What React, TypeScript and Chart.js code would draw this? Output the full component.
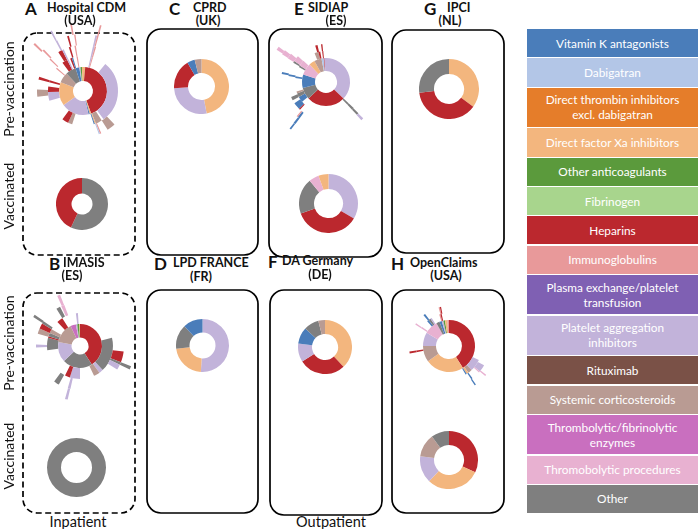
import React, { useEffect, useRef } from "react";
import { Chart, registerables } from "chart.js";
Chart.register(...registerables);

// ---------------- categories & colours ----------------
const CATEGORIES: string[][] = [
  ["Vitamin K antagonists"],
  ["Dabigatran"],
  ["Direct thrombin inhibitors", "excl. dabigatran"],
  ["Direct factor Xa inhibitors"],
  ["Other anticoagulants"],
  ["Fibrinogen"],
  ["Heparins"],
  ["Immunoglobulins"],
  ["Plasma exchange/platelet", "transfusion"],
  ["Platelet aggregation", "inhibitors"],
  ["Rituximab"],
  ["Systemic corticosteroids"],
  ["Thrombolytic/fibrinolytic", "enzymes"],
  ["Thromobolytic procedures"],
  ["Other"],
];
const COLORS = [
  "#4a7dba", "#b3c6e7", "#e57d2a", "#f3b67e", "#5b9a3c", "#a8d58d", "#bb282e", "#e8999a",
  "#7f60b3", "#c2b3da", "#7a5147", "#b99b93", "#c96fbf", "#e8b1d1", "#7f7f7f",
];
const VKA = 0, DAB = 1, DTI = 2, DXA = 3, OAC = 4, FIB = 5, HEP = 6, IMM = 7, PLX = 8, PAI = 9,
  RIT = 10, SYS = 11, THR = 12, TPR = 13, OTH = 14, G = -1;

type Seg = [number, number]; // [category, share %] ; G = no further treatment

// ---------------- A: Hospital CDM (USA) ----------------
const A_pre_L1: Seg[] = [[DXA,1.5],[HEP,43],[DXA,1],[VKA,0.8],[PAI,18.7],[DXA,16],[SYS,7],[OTH,7],[VKA,2.5],[PAI,0.8],[OAC,1],[DXA,0.7]];
const A_pre_L2: Seg[] = [[G,3.5],[PAI,0.6],[IMM,0.5],[G,6.4],[PAI,29],[G,1],[SYS,3],[DXA,0.5],[VKA,0.5],[G,10],[SYS,2],[HEP,3],[G,10.5],[PAI,4],[HEP,2.5],[G,2],[HEP,1],[G,6],[IMM,0.6],[G,3.4],[HEP,2.5],[PAI,0.7],[G,0.8],[HEP,0.8],[VKA,0.6],[G,1.6],[IMM,0.6]];
const A_pre_L3: Seg[] = [[G,3.5],[PAI,0.6],[IMM,0.5],[G,33.4],[SYS,3],[G,2.5],[IMM,0.5],[DAB,0.4],[G,28.6],[SYS,2.5],[G,3.5],[HEP,1],[G,7],[IMM,0.5],[G,3.5],[HEP,1.5],[PAI,0.6],[G,1.9],[HEP,0.6],[G,1.4],[IMM,0.5]];
const A_pre_L4: Seg[] = [[G,3.5],[PAI,0.5],[IMM,0.4],[G,83.1],[IMM,0.5],[G,4],[PAI,0.5],[G,3],[HEP,0.5],[G,1.5],[IMM,0.4]];
const A_pre_L5: Seg[] = [[G,4],[IMM,0.4],[G,82.6],[IMM,0.5],[G,4.5],[PAI,0.4],[G,4.6],[IMM,0.4]];
const A_vac: Seg[] = [[OTH,57],[HEP,43]];

// ---------------- B: IMASIS (ES) ----------------
const B_pre_L1: Seg[] = [[HEP,41],[OTH,22],[PAI,15],[SYS,15],[THR,4],[PAI,1],[OAC,1.5],[DXA,0.5]];
const B_pre_L2: Seg[] = [[G,21],[OTH,17],[PAI,2],[SYS,3],[G,7],[PAI,5],[HEP,2.5],[G,15.5],[OTH,6],[HEP,0.8],[OTH,1.7],[SYS,2],[G,4.5],[HEP,3],[G,7],[PAI,1]];
const B_pre_L3: Seg[] = [[G,27],[HEP,4],[OTH,1],[PAI,2],[G,19.5],[PAI,1],[G,3.5],[OTH,2],[G,14.5],[PAI,1],[G,4],[SYS,2],[HEP,2],[OTH,1],[G,6.5],[OTH,1.5],[G,0.5],[TPR,1.2]];
const B_pre_L4: Seg[] = [[G,31],[OTH,1],[G,21.6],[PAI,0.8],[G,29.4],[OTH,0.8],[G,8.6],[TPR,0.9]];
const B_vac: Seg[] = [[OTH,100]];

// ---------------- C: CPRD (UK) ----------------
const C_pre: Seg[] = [[DXA,47],[PAI,27],[HEP,17.5],[VKA,4.5],[SYS,4]];

// ---------------- D: LPD FRANCE (FR) ----------------
const D_pre: Seg[] = [[PAI,51],[DXA,22],[OTH,15],[VKA,12]];

// ---------------- E: SIDIAP (ES) ----------------
const E_pre_L1: Seg[] = [[PAI,37],[HEP,26],[OTH,8],[VKA,9],[TPR,8],[DXA,4],[SYS,5],[DAB,1.5],[HEP,0.5],[PAI,1]];
const E_pre_L2: Seg[] = [[G,37],[OTH,1],[G,26],[VKA,3],[OTH,2],[SYS,1],[G,7],[VKA,1],[G,5],[OTH,1],[TPR,3],[G,7],[SYS,2],[HEP,1],[G,1],[HEP,0.6]];
const E_pre_L3: Seg[] = [[G,37],[OTH,1],[G,24],[HEP,0.6],[VKA,3],[G,1.4],[OTH,1.5],[G,9],[VKA,0.8],[G,5.2],[OTH,0.8],[TPR,2.5],[G,8.6],[HEP,1],[G,1.5],[HEP,0.6]];
const E_pre_L4: Seg[] = [[G,37.2],[OTH,0.8],[G,22],[VKA,0.8],[IMM,0.5],[G,16.5],[VKA,0.8],[G,5.2],[TPR,2]];
const E_pre_L5: Seg[] = [[G,37.3],[PAI,0.8],[G,21.9],[VKA,0.7],[G,23.3],[TPR,1.5]];
const E_pre_L6: Seg[] = [[G,60.1],[VKA,0.5],[G,23.6],[TPR,1]];
const E_vac: Seg[] = [[PAI,33.5],[HEP,36],[OTH,19.5],[TPR,5.5],[DXA,5.5]];

// ---------------- F: DA Germany (DE) ----------------
const F_pre: Seg[] = [[DXA,38],[HEP,28],[PAI,11],[VKA,10],[OTH,9],[SYS,4]];

// ---------------- G: IPCI (NL) ----------------
const G_pre: Seg[] = [[DXA,35],[HEP,38],[OTH,27]];

// ---------------- H: OpenClaims (USA) ----------------
const H_pre_L1: Seg[] = [[HEP,41],[DXA,24],[SYS,10],[PAI,8.5],[TPR,8.5],[OTH,2],[VKA,1.5],[PAI,1],[OAC,1],[DXA,1.5],[IMM,1]];
const H_pre_L2: Seg[] = [[G,32],[PAI,6],[SYS,2],[DXA,1],[VKA,0.6],[G,30.4],[HEP,0.8],[G,11.2],[TPR,0.8],[G,3.7],[VKA,1],[OTH,1],[PAI,0.7],[G,4],[IMM,0.6],[HEP,0.6]];
const H_pre_L3: Seg[] = [[G,33],[PAI,3],[TPR,0.5],[G,3.5],[VKA,0.6],[G,31.4],[HEP,0.8],[G,11.2],[TPR,0.6],[G,4.4],[VKA,0.8],[G,6],[IMM,0.5],[HEP,0.5]];
const H_pre_L4: Seg[] = [[G,35.5],[TPR,0.5],[G,4.3],[VKA,0.5]];
const H_vac: Seg[] = [[HEP,32],[DXA,30],[PAI,15],[SYS,13],[OTH,10]];

// ---------------- layout ----------------
type DonutSpec = { levels: Seg[][]; cx: number; cy: number; rIn: number; w1: number; wk: number };
const DONUTS: DonutSpec[] = [
  { levels: [A_pre_L1, A_pre_L2, A_pre_L3, A_pre_L4, A_pre_L5], cx: 83, cy: 91, rIn: 10, w1: 14, wk: 11 },
  { levels: [A_vac], cx: 82, cy: 204, rIn: 10.5, w1: 15.5, wk: 0 },
  { levels: [B_pre_L1, B_pre_L2, B_pre_L3, B_pre_L4], cx: 80, cy: 346, rIn: 8.5, w1: 13.5, wk: 11 },
  { levels: [B_vac], cx: 76.5, cy: 467, rIn: 15.5, w1: 14, wk: 0 },
  { levels: [C_pre], cx: 201.5, cy: 86, rIn: 13.5, w1: 14, wk: 0 },
  { levels: [D_pre], cx: 202, cy: 345.5, rIn: 13, w1: 13.5, wk: 0 },
  { levels: [E_pre_L1, E_pre_L2, E_pre_L3, E_pre_L4, E_pre_L5, E_pre_L6], cx: 326, cy: 82, rIn: 11, w1: 13, wk: 7 },
  { levels: [E_vac], cx: 328.5, cy: 203, rIn: 14.5, w1: 15, wk: 0 },
  { levels: [F_pre], cx: 325, cy: 347, rIn: 13, w1: 14, wk: 0 },
  { levels: [G_pre], cx: 449, cy: 89, rIn: 15, w1: 15, wk: 0 },
  { levels: [H_pre_L1, H_pre_L2, H_pre_L3, H_pre_L4], cx: 448.5, cy: 345.5, rIn: 13, w1: 13, wk: 7 },
  { levels: [H_vac], cx: 449, cy: 460, rIn: 15, w1: 14, wk: 0 },
];

const BOXES = [
  { x: 23, y: 33, w: 112, h: 222, dashed: true },
  { x: 23, y: 293, w: 112, h: 220, dashed: true },
  { x: 147, y: 29, w: 111, h: 226 },
  { x: 147, y: 290, w: 111, h: 223 },
  { x: 269, y: 29, w: 113, h: 228 },
  { x: 270, y: 290, w: 112, h: 225 },
  { x: 392, y: 30, w: 112, h: 223 },
  { x: 392, y: 290, w: 112, h: 223 },
];

const TITLES = [
  { letter: "A", lx: 25, name: "Hospital CDM", nx: 47, y1: 7, sub: "(USA)", sx: 80, y2: 21 },
  { letter: "B", lx: 49, name: "IMASIS", nx: 63, y1: 262, sub: "(ES)", sx: 72, y2: 276 },
  { letter: "C", lx: 169, name: "CPRD", nx: 193, y1: 7, sub: "(UK)", sx: 208, y2: 21 },
  { letter: "D", lx: 154, name: "LPD FRANCE", nx: 173, y1: 262, sub: "(FR)", sx: 201, y2: 277 },
  { letter: "E", lx: 294, name: "SIDIAP", nx: 308, y1: 7, sub: "(ES)", sx: 336, y2: 21 },
  { letter: "F", lx: 268, name: "DA Germany", nx: 282, y1: 260, sub: "(DE)", sx: 320, y2: 275 },
  { letter: "G", lx: 424, name: "IPCI", nx: 447, y1: 7, sub: "(NL)", sx: 450, y2: 21 },
  { letter: "H", lx: 391, name: "OpenClaims", nx: 410, y1: 262, sub: "(USA)", sx: 446, y2: 276 },
];

const FONT = "Lato, 'Open Sans', sans-serif";

function fill(level: Seg[]): Seg[] {
  const s = level.reduce((a, b) => a + b[1], 0);
  return s < 100 ? [...level, [G, 100 - s] as Seg] : level;
}

function Donut({ spec }: { spec: DonutSpec }) {
  const ref = useRef<HTMLCanvasElement>(null);
  const R = spec.rIn + spec.w1 + spec.wk * (spec.levels.length - 1);
  useEffect(() => {
    const levels = spec.levels.map(fill);
    const datasets = levels
      .map((lv, i) => ({
        data: lv.map((s) => s[1]),
        backgroundColor: lv.map((s) => (s[0] < 0 ? "rgba(0,0,0,0)" : COLORS[s[0]])),
        borderWidth: 0,
        hoverBorderWidth: 0,
        hoverOffset: 0,
        offset: 0,
        weight: i === 0 ? spec.w1 : spec.wk,
      }))
      .reverse();
    const chart = new Chart(ref.current as HTMLCanvasElement, {
      type: "doughnut",
      data: { labels: levels[0].map((_, i) => String(i)), datasets },
      options: {
        animation: false,
        responsive: false,
        maintainAspectRatio: false,
        cutout: spec.rIn,
        layout: { padding: 0 },
        events: [],
        plugins: { legend: { display: false }, tooltip: { enabled: false } },
      } as any,
    });
    return () => chart.destroy();
  }, []);
  return (
    <canvas
      ref={ref}
      width={2 * R}
      height={2 * R}
      style={{ position: "absolute", left: spec.cx - R, top: spec.cy - R, width: 2 * R, height: 2 * R }}
    />
  );
}

function Txt(props: { x: number; y: number; size: number; bold?: boolean; center?: boolean; rotate?: boolean; children: any }) {
  const { x, y, size, bold, center, rotate, children } = props;
  return (
    <div
      style={{
        position: "absolute",
        left: x,
        top: y,
        fontFamily: FONT,
        fontSize: size,
        fontWeight: bold ? 700 : 400,
        whiteSpace: "nowrap",
        lineHeight: 1,
        color: "#111",
        transform: `translate(${center || rotate ? "-50%" : "0"}, -50%)${rotate ? " rotate(-90deg)" : ""}`,
      }}
    >
      {children}
    </div>
  );
}

const LEGEND_X = 527, LEGEND_W = 171, LEGEND_TOP = 29, ROW1 = 29.3, ROW2 = 40.7;

export default function App() {
  let yy = LEGEND_TOP;
  const legendItems = CATEGORIES.map((lines, i) => {
    const h = lines.length > 1 ? ROW2 : ROW1;
    const top = yy;
    yy += h;
    return (
      <div
        key={i}
        style={{
          position: "absolute",
          left: LEGEND_X,
          top,
          width: LEGEND_W,
          height: h - 1,
          background: COLORS[i],
          color: "#fff",
          fontFamily: FONT,
          fontSize: 11.8,
          lineHeight: "15px",
          display: "flex",
          flexDirection: "column",
          alignItems: "center",
          justifyContent: "center",
          textAlign: "center",
        }}
      >
        {lines.map((l, k) => (
          <div key={k}>{l}</div>
        ))}
      </div>
    );
  });

  return (
    <div style={{ position: "fixed", left: 0, top: 0, width: 699, height: 529, background: "#fff", overflow: "hidden" }}>
      <svg width={699} height={529} style={{ position: "absolute", left: 0, top: 0 }}>
        {BOXES.map((b, i) => (
          <rect
            key={i}
            x={b.x}
            y={b.y}
            width={b.w}
            height={b.h}
            rx={14}
            ry={14}
            fill="none"
            stroke="#000"
            strokeWidth={1.7}
            strokeDasharray={b.dashed ? "6 3.5" : undefined}
          />
        ))}
      </svg>
      {DONUTS.map((d, i) => (
        <Donut key={i} spec={d} />
      ))}
      {TITLES.map((t, i) => (
        <React.Fragment key={i}>
          <Txt x={t.lx} y={t.y1 + 1} size={17} bold>{t.letter}</Txt>
          <Txt x={t.nx} y={t.y1 + 1} size={12.5} bold>{t.name}</Txt>
          <Txt x={t.sx} y={t.y2} size={12.5} bold center>{t.sub}</Txt>
        </React.Fragment>
      ))}
      <Txt x={9} y={89} size={14} rotate>Pre-vaccination</Txt>
      <Txt x={9} y={196} size={14} rotate>Vaccinated</Txt>
      <Txt x={9} y={343} size={14} rotate>Pre-vaccination</Txt>
      <Txt x={9} y={456} size={14} rotate>Vaccinated</Txt>
      <Txt x={78} y={522} size={14.5} center>Inpatient</Txt>
      <Txt x={331} y={522} size={14.5} center>Outpatient</Txt>
      {legendItems}
    </div>
  );
}
